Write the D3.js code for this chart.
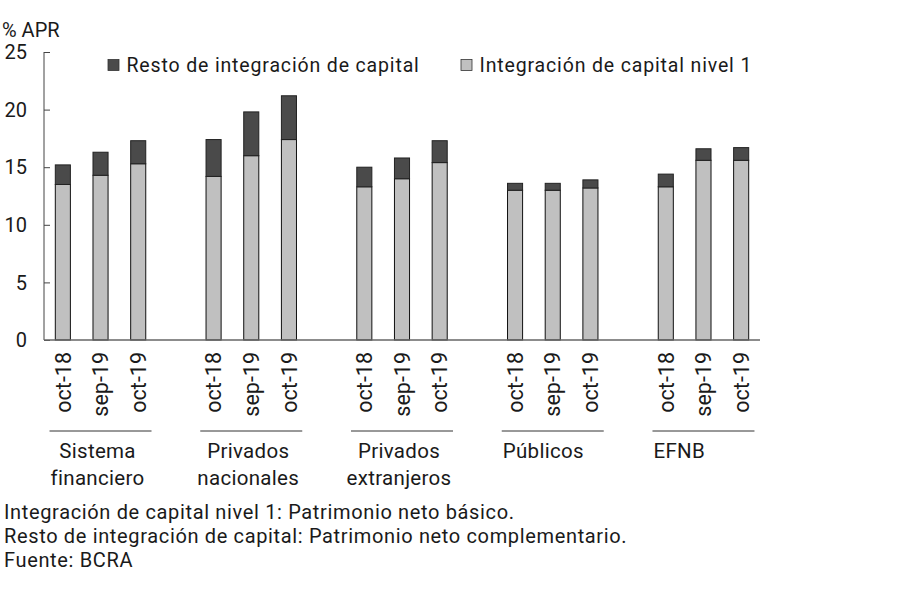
<!DOCTYPE html>
<html>
<head>
<meta charset="utf-8">
<script src="https://cdn.jsdelivr.net/npm/d3@7"></script>
<style>
	body { margin: 0; background: #fff; }
	text { font-family: Roboto, "Liberation Sans", sans-serif; fill: #1a1a1a; }
</style>
</head>
<body>
<svg id="chart" width="907" height="605"></svg>
<script>
/*
** Capital integration by group of banks (% APR).
*/

// data
var groups = ["Sistema financiero", "Privados nacionales", "Privados extranjeros", "Públicos", "EFNB"];
var periods = ["oct-18", "sep-19", "oct-19"];
var nivel1 = [
	[13.5, 14.3, 15.3],
	[14.2, 16.0, 17.4],
	[13.3, 14.0, 15.4],
	[13.0, 13.0, 13.2],
	[13.3, 15.6, 15.6]
];
var resto = [
	[1.7, 2.0, 2.0],
	[3.2, 3.8, 3.8],
	[1.7, 1.8, 1.9],
	[0.6, 0.6, 0.7],
	[1.1, 1.0, 1.1]
];
var yTicks = [0, 5, 10, 15, 20, 25];
var seriesNames = ["Resto de integración de capital", "Integración de capital nivel 1"];
var notes = [
	"Integración de capital nivel 1: Patrimonio neto básico.",
	"Resto de integración de capital: Patrimonio neto complementario.",
	"Fuente: BCRA"
];

var colors = {"nivel1": "#c0c0c0", "resto": "#4a4a4a"};

/*
** Draws the whole chart.
*/
function drawChart() {
	var svg = d3.select("#chart");
	var mLeft = 44, mRight = 760, mTop = 52, mBottom = 340;

	var x0 = d3.scaleBand()
		.domain(groups)
		.range([mLeft, mRight])
		.paddingInner(0.25)
		.paddingOuter(0);

	var x1 = d3.scaleBand()
		.domain(periods)
		.range([0, x0.bandwidth()])
		.paddingInner(0.6)
		.paddingOuter(0.3);

	var y = d3.scaleLinear()
		.domain([0, 25])
		.range([mBottom, mTop]);

	// flat rows for the bars
	var rows = [];
	groups.forEach(function(g, i) {
		periods.forEach(function(p, j) {
			rows.push({group: g, period: p, n1: nivel1[i][j], rest: resto[i][j]});
		});
	});

	// y axis, ticks point inward
	var yAxis = svg.append("g")
		.attr("transform", "translate(" + mLeft + ",0)")
		.call(d3.axisRight(y).tickValues(yTicks).tickSize(6).tickFormat(""));
	yAxis.select(".domain").attr("stroke", "#444").attr("d", "M0," + mTop + "V" + mBottom);
	yAxis.selectAll(".tick line").attr("stroke", "#444");

	svg.append("g")
		.selectAll("text")
		.data(yTicks)
		.enter()
		.append("text")
			.attr("x", 27)
			.attr("y", function(d) {return y(d);})
			.attr("dy", "0.36em")
			.attr("text-anchor", "end")
			.style("font-size", "20px")
			.text(function(d) {return d;});

	svg.append("text")
		.attr("x", 2)
		.attr("y", 37)
		.style("font-size", "20px")
		.text("% APR");

	// bars
	var bars = svg.append("g").selectAll("g.bar")
		.data(rows)
		.enter()
		.append("g")
			.attr("class", "bar");

	bars.append("rect")
		.attr("x", function(d) {return x0(d.group) + x1(d.period);})
		.attr("y", function(d) {return y(d.n1);})
		.attr("width", x1.bandwidth())
		.attr("height", function(d) {return y(0) - y(d.n1);})
		.attr("fill", colors.nivel1)
		.attr("stroke", "#111")
		.attr("stroke-width", 1);

	bars.append("rect")
		.attr("x", function(d) {return x0(d.group) + x1(d.period);})
		.attr("y", function(d) {return y(d.n1 + d.rest);})
		.attr("width", x1.bandwidth())
		.attr("height", function(d) {return y(d.n1) - y(d.n1 + d.rest);})
		.attr("fill", colors.resto)
		.attr("stroke", "#222")
		.attr("stroke-width", 1);

	// x axis line
	svg.append("line")
		.attr("x1", mLeft)
		.attr("x2", mRight)
		.attr("y1", y(0))
		.attr("y2", y(0))
		.attr("stroke", "#666")
		.attr("stroke-width", 1.5);

	// period labels, rotated
	svg.append("g").selectAll("text")
		.data(rows)
		.enter()
		.append("text")
			.attr("transform", function(d) {
				var cx = x0(d.group) + x1(d.period) + x1.bandwidth() / 2;
				return "translate(" + cx + ",352) rotate(-90)";
			})
			.attr("dy", "0.36em")
			.attr("text-anchor", "end")
			.style("font-size", "21.5px")
			.text(function(d) {return d.period;});

	// group underlines and names
	var gl = svg.append("g").selectAll("g")
		.data(groups)
		.enter()
		.append("g");

	gl.append("line")
		.attr("x1", function(d) {return x0(d) + x0.bandwidth() / 2 - 51;})
		.attr("x2", function(d) {return x0(d) + x0.bandwidth() / 2 + 51;})
		.attr("y1", 431)
		.attr("y2", 431)
		.attr("stroke", "#333")
		.attr("stroke-width", 1);

	gl.each(function(d) {
		var words = d.split(" ");
		var mid = x0(d) + x0.bandwidth() / 2;
		var t = d3.select(this).append("text")
			.style("font-size", "20.5px")
			.style("letter-spacing", "0.3px");
		if (words.length > 1) {
			t.attr("text-anchor", "middle");
			words.forEach(function(w, k) {
				t.append("tspan")
					.attr("x", mid - 3)
					.attr("y", 458 + k * 27)
					.text(w);
			});
		} else {
			t.attr("x", mid - 50)
				.attr("y", 458)
				.text(d);
		}
	});

	// legend
	var legendX = [108, 461];
	var legendFill = [colors.resto, colors.nivel1];
	var legend = svg.append("g").selectAll("g")
		.data(seriesNames)
		.enter()
		.append("g");

	legend.append("rect")
		.attr("x", function(d, i) {return legendX[i];})
		.attr("y", 59.5)
		.attr("width", 11)
		.attr("height", 11)
		.attr("fill", function(d, i) {return legendFill[i];})
		.attr("stroke", "#333")
		.attr("stroke-width", 0.8);

	legend.append("text")
		.attr("x", function(d, i) {return legendX[i] + 18.5;})
		.attr("y", 65)
		.attr("dy", "0.36em")
		.style("font-size", "19.5px")
		.style("letter-spacing", "0.85px")
		.text(function(d) {return d;});

	// notes
	svg.append("g").selectAll("text")
		.data(notes)
		.enter()
		.append("text")
			.attr("x", 4)
			.attr("y", function(d, i) {return 519 + i * 24;})
			.style("font-size", "20px")
			.style("letter-spacing", "0.65px")
			.text(function(d) {return d;});
}

drawChart();
</script>
</body>
</html>
